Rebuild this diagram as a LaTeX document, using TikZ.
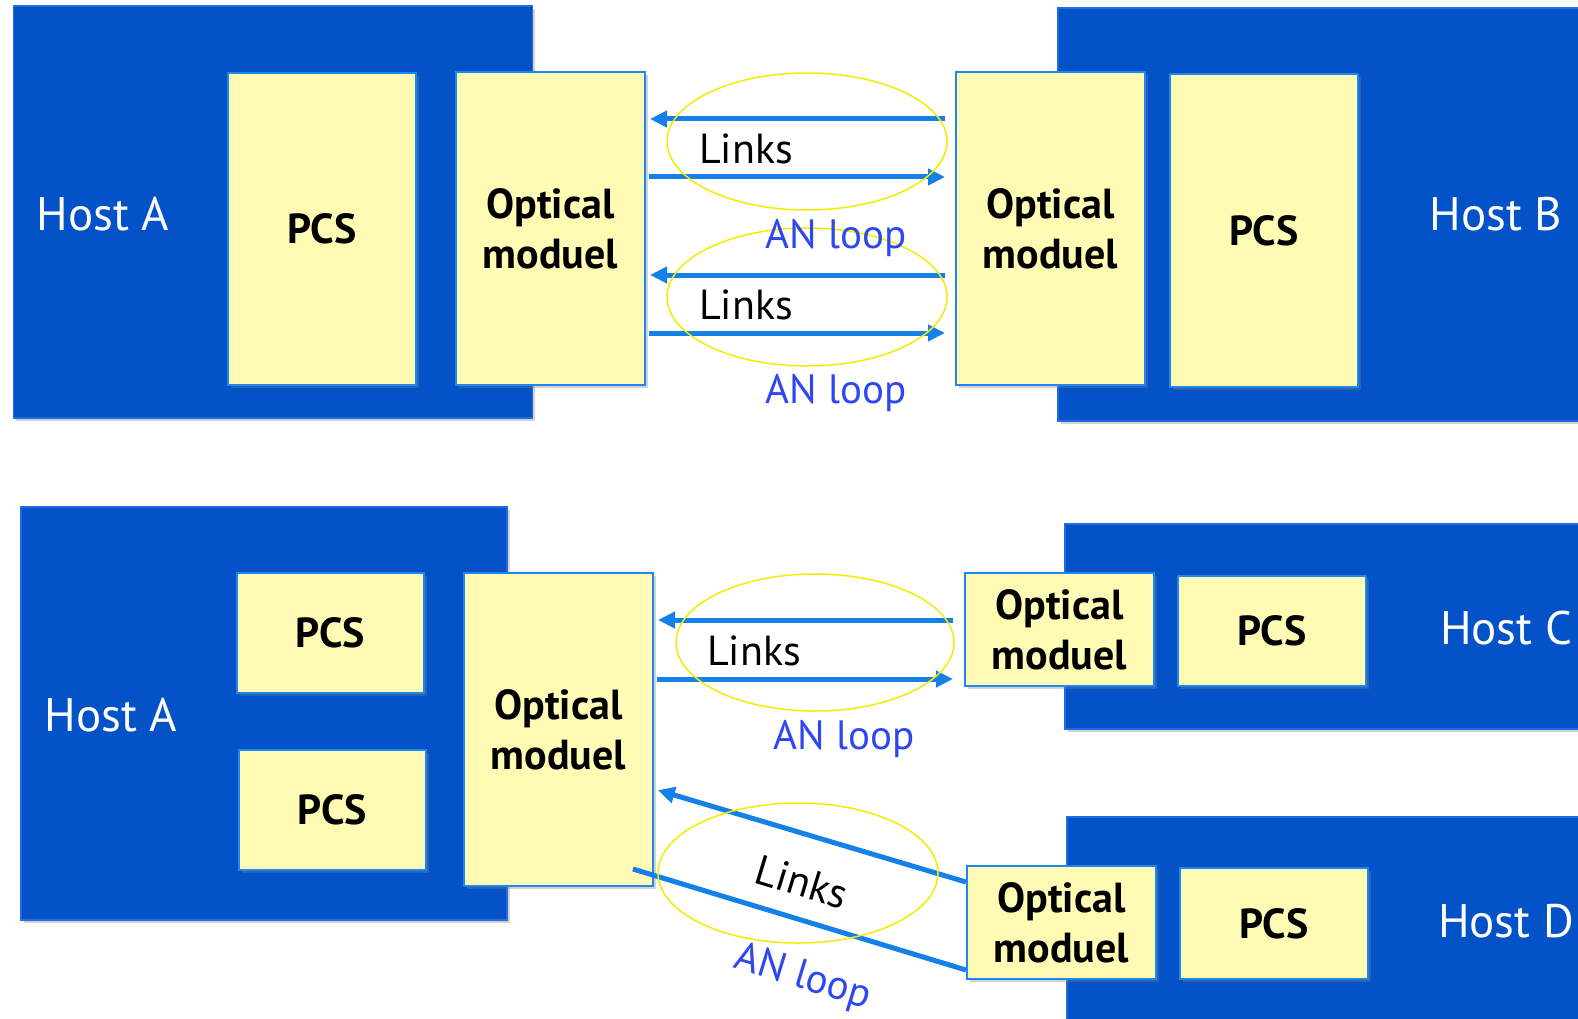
\documentclass[tikz,border=0pt]{standalone}
\usepackage{fontspec}
\setmainfont{PT Sans}
\usetikzlibrary{arrows.meta,shadows}
\definecolor{hostblue}{RGB}{3,82,200}
\definecolor{hostedge}{RGB}{30,110,225}
\definecolor{modfill}{RGB}{255,251,180}
\definecolor{modedge}{RGB}{30,136,240}
\definecolor{linkblue}{RGB}{21,128,232}
\definecolor{loopyellow}{RGB}{245,235,0}
\definecolor{anblue}{RGB}{47,71,240}
\begin{document}
\begin{tikzpicture}[x=1pt,y=-1pt,
  softshadow/.style={drop shadow={shadow xshift=2.5pt,shadow yshift=-3pt,opacity=0.35}},
  host/.style={draw=hostedge, fill=hostblue, line width=1.5pt, inner sep=0pt, softshadow},
  hostlabel/.style={text=white, font=\fontsize{47}{56}\selectfont, anchor=base, inner sep=0pt},
  unit/.style={draw=modedge, fill=modfill, line width=2pt, inner sep=0pt, align=center,
    font=\bfseries\fontsize{42}{50}\selectfont, softshadow},
  link/.style={draw=linkblue, line width=5pt, -{Triangle[length=17pt 0 0,width=16pt 0 0]}},
  wire/.style={draw=linkblue, line width=5pt},
  loopring/.style={draw=loopyellow, line width=1.5pt},
  linktext/.style={font=\fontsize{42}{50}\selectfont, inner sep=0pt, anchor=base},
  antext/.style={text=anblue, font=\fontsize{41}{50}\selectfont, inner sep=0pt, anchor=base},
]
\useasboundingbox (0,0) rectangle (1578,1019);
\clip (0,0) rectangle (1578,1019);

% ---------- upper system: Host A <-> Host B ----------
\node[host, minimum width=519pt, minimum height=412pt] (hostA1) at (273,212) {};
\node[host, minimum width=542pt, minimum height=413pt] (hostB) at (1329,214.5) {};
\node[hostlabel] (hostA1lbl) at (103,230) {Host A};
\node[hostlabel] (hostBlbl) at (1496,230) {Host B};

\node[unit, minimum width=188pt, minimum height=312pt] (pcsA1) at (322,229) {PCS};
\node[unit, minimum width=189pt, minimum height=313pt] (omA1) at (550.5,228.5) {Optical\\moduel};
\node[unit, minimum width=189pt, minimum height=313pt] (omB) at (1050.5,228.5) {Optical\\moduel};
\node[unit, minimum width=188pt, minimum height=313pt] (pcsB) at (1264,230.5) {PCS};

\coordinate (r1) at (0,119);
\coordinate (r2) at (0,177);
\coordinate (r3) at (0,275);
\coordinate (r4) at (0,333);
\draw[link, shorten <=10pt, shorten >=4pt] (omB.west |- r1) -- (omA1.east |- r1);
\draw[link, shorten <=3pt, shorten >=10pt] (omA1.east |- r2) -- (omB.west |- r2);
\draw[link, shorten <=10pt, shorten >=4pt] (omB.west |- r3) -- (omA1.east |- r3);
\draw[link, shorten <=3pt, shorten >=10pt] (omA1.east |- r4) -- (omB.west |- r4);

\draw[loopring] (807,141.5) ellipse [x radius=140pt, y radius=68.5pt];
\draw[loopring] (807,297) ellipse [x radius=140pt, y radius=69pt];

\node[linktext] (links1) at (746,164) {Links};
\node[linktext] (links2) at (746,319.5) {Links};
\node[antext] (an1) at (836,248) {AN loop};
\node[antext] (an2) at (836,403) {AN loop};

% ---------- lower system: Host A <-> Host C / Host D ----------
\node[host, minimum width=486pt, minimum height=413pt] (hostA2) at (264,713.5) {};
\node[host, minimum width=535pt, minimum height=205pt] (hostC) at (1332.5,626.5) {};
\node[host, minimum width=533pt, minimum height=223pt] (hostD) at (1333.5,928.5) {};
\node[hostlabel] (hostA2lbl) at (111,731) {Host A};
\node[hostlabel] (hostClbl) at (1506,644) {Host C};
\node[hostlabel] (hostDlbl) at (1506,937) {Host D};

\node[unit, minimum width=187pt, minimum height=120pt] (pcsA2a) at (330.5,633) {PCS};
\node[unit, minimum width=187pt, minimum height=120pt] (pcsA2b) at (332.5,810) {PCS};
\node[unit, minimum width=189pt, minimum height=313pt] (omA2) at (558.5,729.5) {Optical\\moduel};
\node[unit, minimum width=189pt, minimum height=113pt] (omC) at (1059.5,629.5) {Optical\\moduel};
\node[unit, minimum width=188pt, minimum height=110pt] (pcsC) at (1272,631) {PCS};
\node[unit, minimum width=189pt, minimum height=113pt] (omD) at (1061.5,922.5) {Optical\\moduel};
\node[unit, minimum width=188pt, minimum height=111pt] (pcsD) at (1274,923.5) {PCS};

\coordinate (c1) at (0,620);
\coordinate (c2) at (0,679);
\draw[link, shorten <=11pt, shorten >=4pt] (omC.west |- c1) -- (omA2.east |- c1);
\draw[link, shorten <=3pt, shorten >=11pt] (omA2.east |- c2) -- (omC.west |- c2);

\coordinate (d1) at (0,882);
\coordinate (d2) at (0,789);
\coordinate (d3) at (633,869);
\coordinate (d4) at (0,970);
\draw[link, shorten >=4pt] (omD.west |- d1) -- (omA2.east |- d2);
\draw[wire] (d3) -- (omD.west |- d4);

\draw[loopring] (815,642.5) ellipse [x radius=139pt, y radius=68.5pt];
\draw[loopring] (798,873) ellipse [x radius=140pt, y radius=70pt];

\node[linktext] (links3) at (754,665) {Links};
\node[antext] (an3) at (844,749) {AN loop};
\node[font=\fontsize{42}{50}\selectfont, inner sep=0pt, rotate=-17] (links4) at (802,882) {Links};
\node[text=anblue, font=\fontsize{41}{50}\selectfont, inner sep=0pt, rotate=-17] (an4) at (803,978) {AN loop};
\end{tikzpicture}
\end{document}
